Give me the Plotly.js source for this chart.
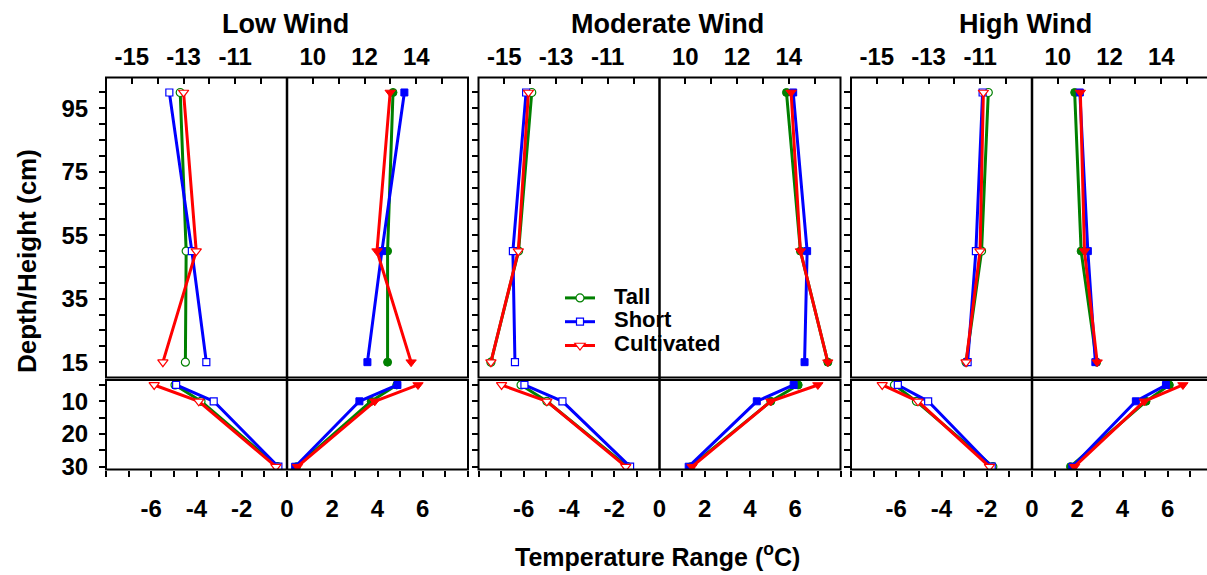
<!DOCTYPE html>
<html>
<head>
<meta charset="utf-8">
<script src="https://cdn.plot.ly/plotly-3.0.1.min.js"></script>
<style>html,body{margin:0;padding:0;background:#fff;}#chart{width:1207px;height:575px;}</style>
</head>
<body>
<div id="chart"></div>
<script>
// ---------------- DATA ----------------
const panelTitles = ['Low Wind', 'Moderate Wind', 'High Wind'];
const seriesNames = ['Tall', 'Short', 'Cultivated'];
const heights = [100, 50, 15];   // cm above ground
const depths = [5, 10, 30];      // cm below ground

// rows: Tall, Short, Cultivated
const lowAirMin  = [[-13.13, -12.90, -12.93], [-13.55, -12.68, -12.12], [-13.00, -12.51, -13.80]];
const lowAirMax  = [[13.10, 12.89, 12.89], [13.54, 12.67, 12.11], [12.99, 12.48, 13.80]];
const lowSoilMin = [[-4.95, -3.80, -0.42], [-4.90, -3.24, -0.38], [-5.87, -3.90, -0.49]];
const lowSoilMax = [[4.85, 3.72, 0.42], [4.88, 3.20, 0.36], [5.79, 3.88, 0.46]];

const modAirMin  = [[-13.94, -14.45, -15.52], [-14.16, -14.67, -14.59], [-14.07, -14.46, -15.52]];
const modAirMax  = [[13.91, 14.45, 15.51], [14.17, 14.71, 14.61], [14.09, 14.45, 15.51]];
const modSoilMin = [[-6.12, -4.98, -1.42], [-5.97, -4.29, -1.30], [-6.98, -4.98, -1.49]];
const modSoilMax = [[6.13, 4.92, 1.37], [5.93, 4.30, 1.29], [7.00, 4.92, 1.44]];

const highAirMin  = [[-10.69, -10.95, -11.55], [-10.91, -11.17, -11.49], [-10.88, -11.01, -11.55]];
const highAirMax  = [[10.65, 10.90, 11.50], [10.85, 11.16, 11.45], [10.87, 11.03, 11.52]];
const highSoilMin = [[-6.08, -5.11, -1.73], [-5.93, -4.59, -1.78], [-6.62, -5.04, -1.88]];
const highSoilMax = [[6.07, 5.04, 1.70], [5.92, 4.59, 1.78], [6.67, 4.96, 1.88]];

const upperMinTicks = [-15, -13, -11];
const upperMinLabels = ['-15', '-13', '-11'];
const upperMaxTicks = [10, 12, 14];
const upperMaxLabels = ['10', '12', '14'];
const lowerTicks = [-6, -4, -2, 0, 2, 4, 6];
const lowerLabels = ['-6', '-4', '-2', '0', '2', '4', '6'];
const heightTicks = [15, 35, 55, 75, 95];
const depthTicks = [10, 20, 30];

// ---------------- LAYOUT HELPERS ----------------
const W = 1207, H = 575;
const px = v => v / W;
const py = v => 1 - v / H;
const F = 'Liberation Sans, Arial, Helvetica, sans-serif';
const colors = ['#008000', '#0000FF', '#FF0000'];
const symbols = ['circle', 'square', 'triangle-down'];
const sizes = [8, 7, 9];

const panelData = [
  [lowAirMin, lowAirMax, lowSoilMin, lowSoilMax],
  [modAirMin, modAirMax, modSoilMin, modSoilMax],
  [highAirMin, highAirMax, highSoilMin, highSoilMax]
];
const geo = [
  {L: 106, M: 287, R: 468, T: 285},
  {L: 478.5, M: 659.5, R: 840.5, T: 667},
  {L: 851, M: 1032, R: 1213, T: 1025}
];
const upTop = 77.5, upBot = 377.5, loTop = 380, loBot = 469.5;

const traces = [];
const layout = {
  width: W, height: H,
  margin: {l: 0, r: 0, t: 0, b: 0},
  paper_bgcolor: 'white', plot_bgcolor: 'rgba(0,0,0,0)',
  showlegend: true,
  legend: {
    x: px(560), y: py(281), xanchor: 'left', yanchor: 'top',
    bgcolor: 'rgba(0,0,0,0)', borderwidth: 0, itemwidth: 30, tracegroupgap: 0,
    font: {family: F, size: 16, color: 'black', weight: 'bold'}
  },
  shapes: [], annotations: []
};

const tickFont = {family: F, size: 24, color: 'black', weight: 'bold'};
function xAxis(domain, range, side, anchor, tickvals, ticktext, ticksDir) {
  return {
    domain: domain, range: range, side: side, anchor: anchor,
    tickmode: 'array', tickvals: tickvals, ticktext: ticktext,
    ticks: ticksDir, ticklen: 6, tickwidth: 2, tickcolor: 'black',
    minor: {dtick: 1, tick0: 0, ticks: ticksDir, ticklen: 6, tickwidth: 2, tickcolor: 'black', showgrid: false},
    showticklabels: true, tickfont: tickFont, ticklabelstandoff: side === 'top' ? 7 : 12,
    showline: false, showgrid: false, zeroline: false, fixedrange: true
  };
}
function yAxis(domain, range, anchor, tickvals, minor0, showLabels) {
  return {
    domain: domain, range: range, anchor: anchor,
    tickmode: 'array', tickvals: tickvals, ticks: 'outside', ticklen: 6, tickwidth: 2, tickcolor: 'black',
    minor: {dtick: 5, tick0: minor0, ticks: 'outside', ticklen: 6, tickwidth: 2, tickcolor: 'black', showgrid: false},
    showticklabels: showLabels, tickfont: tickFont, ticklabelstandoff: 6,
    showline: false, showgrid: false, zeroline: false, fixedrange: true
  };
}

for (let p = 0; p < 3; p++) {
  const g = geo[p];
  const right = Math.min(g.R, W);
  const frac = (right - g.M) / (g.R - g.M);
  const xUL = 3 * p + 1, xUR = 3 * p + 2, xLo = 3 * p + 3;
  const yU = 2 * p + 1, yLo = 2 * p + 2;
  const nm = i => (i === 1 ? '' : String(i));

  layout['xaxis' + nm(xUL)] = xAxis([px(g.L), px(g.M)], [-16, -9], 'top', 'y' + nm(yU), upperMinTicks, upperMinLabels, 'inside');
  layout['xaxis' + nm(xUR)] = xAxis([px(g.M), px(right)], [9, 9 + 7 * frac], 'top', 'y' + nm(yU), upperMaxTicks, upperMaxLabels, 'inside');
  layout['xaxis' + nm(xLo)] = xAxis([px(g.L), px(right)], [-8, 8 * frac], 'bottom', 'y' + nm(yLo), lowerTicks, lowerLabels, 'outside');
  layout['yaxis' + nm(yU)] = yAxis([py(upBot), py(upTop)], [10.17, 104.72], 'x' + nm(xUL), heightTicks, 15, p === 0);
  layout['yaxis' + nm(yLo)] = yAxis([py(loBot), py(loTop)], [30.86, 3.48], 'x' + nm(xLo), depthTicks, 5, p === 0);

  // borders
  layout.shapes.push({type: 'rect', xref: 'paper', yref: 'paper', x0: px(g.L), x1: px(g.R), y0: py(upBot), y1: py(upTop), line: {color: 'black', width: 2}});
  layout.shapes.push({type: 'rect', xref: 'paper', yref: 'paper', x0: px(g.L), x1: px(g.R), y0: py(loBot), y1: py(loTop), line: {color: 'black', width: 2}});
  // midline at zero of the lower scale
  layout.shapes.push({type: 'line', xref: 'x' + nm(xLo), yref: 'paper', x0: 0, x1: 0, y0: py(loBot), y1: py(upTop), line: {color: 'black', width: 2.5}});

  layout.annotations.push({text: panelTitles[p], xref: 'paper', yref: 'paper', x: px(g.T), y: py(24), xanchor: 'center', yanchor: 'middle', showarrow: false,
    font: {family: F, size: 27, color: 'black', weight: 'bold'}});

  const d = panelData[p];
  for (let s = 0; s < 3; s++) {
    const c = colors[s];
    const open = {symbol: symbols[s], size: sizes[s], color: 'white', line: {color: c, width: 1.2}};
    const filled = {symbol: symbols[s], size: sizes[s], color: c, line: {color: c, width: 1}};
    const base = {type: 'scatter', mode: 'lines+markers', line: {color: c, width: 3}, hoverinfo: 'skip'};
    traces.push(Object.assign({}, base, {name: p === 1 ? ' ' : seriesNames[s], x: d[0][s], y: heights, xaxis: 'x' + nm(xUL), yaxis: 'y' + nm(yU), marker: open, showlegend: p === 1}));
    traces.push(Object.assign({}, base, {name: seriesNames[s], x: d[1][s], y: heights, xaxis: 'x' + nm(xUR), yaxis: 'y' + nm(yU), marker: filled, showlegend: false}));
    traces.push(Object.assign({}, base, {name: seriesNames[s], x: d[2][s], y: depths, xaxis: 'x' + nm(xLo), yaxis: 'y' + nm(yLo), marker: open, showlegend: false}));
    traces.push(Object.assign({}, base, {name: seriesNames[s], x: d[3][s], y: depths, xaxis: 'x' + nm(xLo), yaxis: 'y' + nm(yLo), marker: filled, showlegend: false}));
  }
}

// legend labels (the legend's own text is blank so rows can sit close together)
const legendLabelY = [296, 319.5, 343];
for (let s = 0; s < 3; s++) {
  layout.annotations.push({text: seriesNames[s], xref: 'paper', yref: 'paper', x: px(612), y: py(legendLabelY[s]),
    xanchor: 'left', yanchor: 'middle', showarrow: false, font: {family: F, size: 22, color: 'black', weight: 'bold'}});
}

layout.annotations.push({text: 'Depth/Height (cm)', xref: 'paper', yref: 'paper', x: px(27), y: py(261), textangle: -90,
  xanchor: 'center', yanchor: 'middle', showarrow: false, font: {family: F, size: 26, color: 'black', weight: 'bold'}});
layout.annotations.push({text: 'Temperature Range (<sup>o</sup>C)', xref: 'paper', yref: 'paper', x: px(657), y: py(555),
  xanchor: 'center', yanchor: 'middle', showarrow: false, font: {family: F, size: 25, color: 'black', weight: 'bold'}});

Plotly.newPlot('chart', traces, layout, {staticPlot: true, displayModeBar: false});
</script>
</body>
</html>
